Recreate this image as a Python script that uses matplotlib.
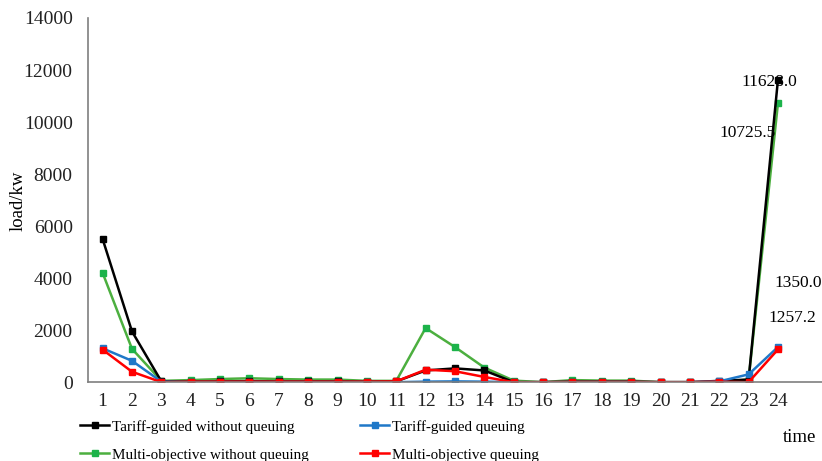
import matplotlib
matplotlib.use('Agg')
import matplotlib.pyplot as plt

plt.rcParams['font.family'] = ['Liberation Serif', 'DejaVu Serif']

hours = list(range(1, 25))

# load per hour (kW) for the four scheduling strategies
tariff_no_queue = [5500, 1950, 30, 20, 30, 40, 30, 30, 30, 20, 30, 450,
                   530, 450, 0, 0, 20, 20, 20, 0, 0, 50, 100, 11628.0]
tariff_queue = [1300, 820, 20, 10, 10, 10, 10, 10, 10, 10, 0, 20,
                30, 20, 0, 0, 10, 10, 10, 0, 0, 30, 300, 1350.0]
multi_no_queue = [4200, 1280, 50, 80, 120, 150, 120, 100, 100, 50, 50, 2080,
                  1350, 560, 60, 0, 80, 60, 60, 0, 0, 0, 100, 10725.5]
multi_queue = [1250, 400, 0, 20, 20, 20, 20, 20, 20, 20, 30, 480,
               420, 200, 0, 0, 10, 10, 10, 0, 0, 20, 0, 1257.2]

fig = plt.figure(figsize=(8.22, 4.61), dpi=100)
ax = fig.add_axes([0.107, 0.171, 0.893, 0.790])

mk = dict(marker='s', markersize=5, linewidth=1.8)
l_green, = ax.plot(hours, multi_no_queue, color='#4caf3f', markerfacecolor='#1cb34a',
                   markeredgecolor='#1cb34a', label='Multi-objective without queuing', **mk)
l_black, = ax.plot(hours, tariff_no_queue, color='black', label='Tariff-guided without queuing', **mk)
l_blue, = ax.plot(hours, tariff_queue, color='#1f78c8', label='Tariff-guided queuing', **mk)
l_red, = ax.plot(hours, multi_queue, color='#ff0000', label='Multi-objective queuing', **mk)

# value labels on the last hour
ax.annotate('%.1f' % tariff_no_queue[-1], (24, tariff_no_queue[-1]), xytext=(-9, -2),
            textcoords='offset pixels', ha='center', va='center', fontsize=12.5)
ax.annotate('%.1f' % multi_no_queue[-1], (24, multi_no_queue[-1]), xytext=(-30, -30),
            textcoords='offset pixels', ha='center', va='center', fontsize=12.5)
ax.annotate('%.1f' % tariff_queue[-1], (24, tariff_queue[-1]), xytext=(20, 64),
            textcoords='offset pixels', ha='center', va='center', fontsize=12.5)
ax.annotate('%.1f' % multi_queue[-1], (24, multi_queue[-1]), xytext=(14, 31),
            textcoords='offset pixels', ha='center', va='center', fontsize=12.5)

ax.set_xlim(0.5, 25.5)
ax.set_ylim(0, 14000)
ax.set_xticks(hours)
ax.set_yticks(range(0, 14001, 2000))
ax.tick_params(length=0, labelsize=14, colors='#222222')
ax.tick_params(axis='x', pad=8)
ax.tick_params(axis='y', pad=11)
for s in ['top', 'right']:
    ax.spines[s].set_visible(False)
for s in ['left', 'bottom']:
    ax.spines[s].set_color('#7f7f7f')
    ax.spines[s].set_linewidth(1.2)

fig.text(0.022, 0.565, 'load/kw', rotation=90, ha='center', va='center', fontsize=13.5)
fig.text(0.973, 0.052, 'time', ha='center', va='center', fontsize=13.5)

fig.legend(handles=[l_black, l_green, l_blue, l_red], ncol=2, loc='lower left',
           bbox_to_anchor=(0.081, -0.031), frameon=False, fontsize=10.9,
           handlelength=1.9, handletextpad=0.2, columnspacing=3.4, labelspacing=0.95)

fig.savefig('out.png', dpi=100)
